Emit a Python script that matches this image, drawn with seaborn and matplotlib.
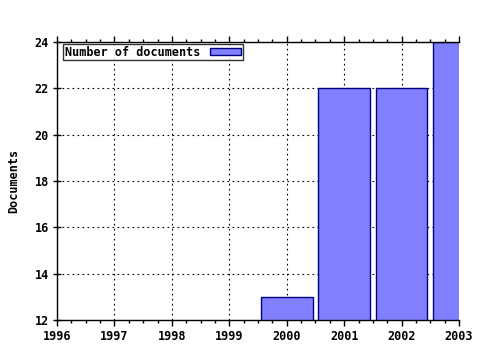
import matplotlib
matplotlib.use("Agg")
import matplotlib.pyplot as plt
import seaborn as sns
import pandas as pd
from matplotlib.ticker import MultipleLocator, NullLocator

years = [2000, 2001, 2002, 2003]
documents = [13, 22, 22, 24]
series_label = "Number of documents"
y_label = "Documents"

sns.set_style("white")
plt.rcParams['font.family'] = ['DejaVu Sans Mono']
plt.rcParams['font.weight'] = 'bold'
plt.rcParams['text.color'] = 'black'
plt.rcParams['axes.labelcolor'] = 'black'
plt.rcParams['xtick.color'] = 'black'
plt.rcParams['ytick.color'] = 'black'

df = pd.DataFrame({"year": years, "docs": documents})

fig = plt.figure(figsize=(4.8, 3.5), dpi=100)
ax = fig.add_axes([57/480, 30/350, 402/480, 278/350])

sns.barplot(data=df, x="year", y="docs", native_scale=True, width=0.9,
            color="#8080ff", saturation=1, edgecolor="#000080", linewidth=1,
            label=series_label, ax=ax)

ax.set_xlim(1996, 2003)
ax.set_ylim(12, 24)
ax.set_xticks(range(1996, 2004))
ax.xaxis.set_minor_locator(MultipleLocator(0.25))
ax.set_yticks(range(12, 25, 2))
ax.yaxis.set_minor_locator(NullLocator())
ax.set_xticklabels([str(y) for y in range(1996, 2004)], fontsize=8.5, fontweight='bold')
ax.set_yticklabels([str(v) for v in range(12, 25, 2)], fontsize=8.5, fontweight='bold')
ax.tick_params(axis='x', which='major', direction='out', length=4, width=1, color='black',
               labelcolor='black', bottom=True, top=True, pad=3)
ax.tick_params(axis='x', which='minor', direction='out', length=2, width=1, color='black',
               bottom=True, top=True)
ax.tick_params(axis='y', which='major', direction='inout', length=6, width=1, color='black',
               labelcolor='black', left=True, right=False, pad=3)

ax.grid(True, which='major', linestyle=(0, (1.5, 3)), color='black', linewidth=0.8)
ax.set_axisbelow(True)
ax.spines['right'].set_visible(False)
for s in ['left', 'bottom', 'top']:
    ax.spines[s].set_color('black')
    ax.spines[s].set_linewidth(1)

ax.set_xlabel("")
ax.set_ylabel(y_label, fontsize=8.5, fontweight='bold', labelpad=10, color='black')

leg = ax.legend(loc='upper left', bbox_to_anchor=(0.015, 0.993), frameon=True,
                fancybox=False, edgecolor='black', fontsize=8.5,
                handlelength=2.7, handleheight=0.6, borderpad=0.15,
                borderaxespad=0, markerfirst=False, handletextpad=0.8)
leg.get_frame().set_linewidth(1)
for t in leg.get_texts():
    t.set_fontweight('bold')
    t.set_color('black')

fig.savefig("out.png", dpi=100, facecolor='white')
